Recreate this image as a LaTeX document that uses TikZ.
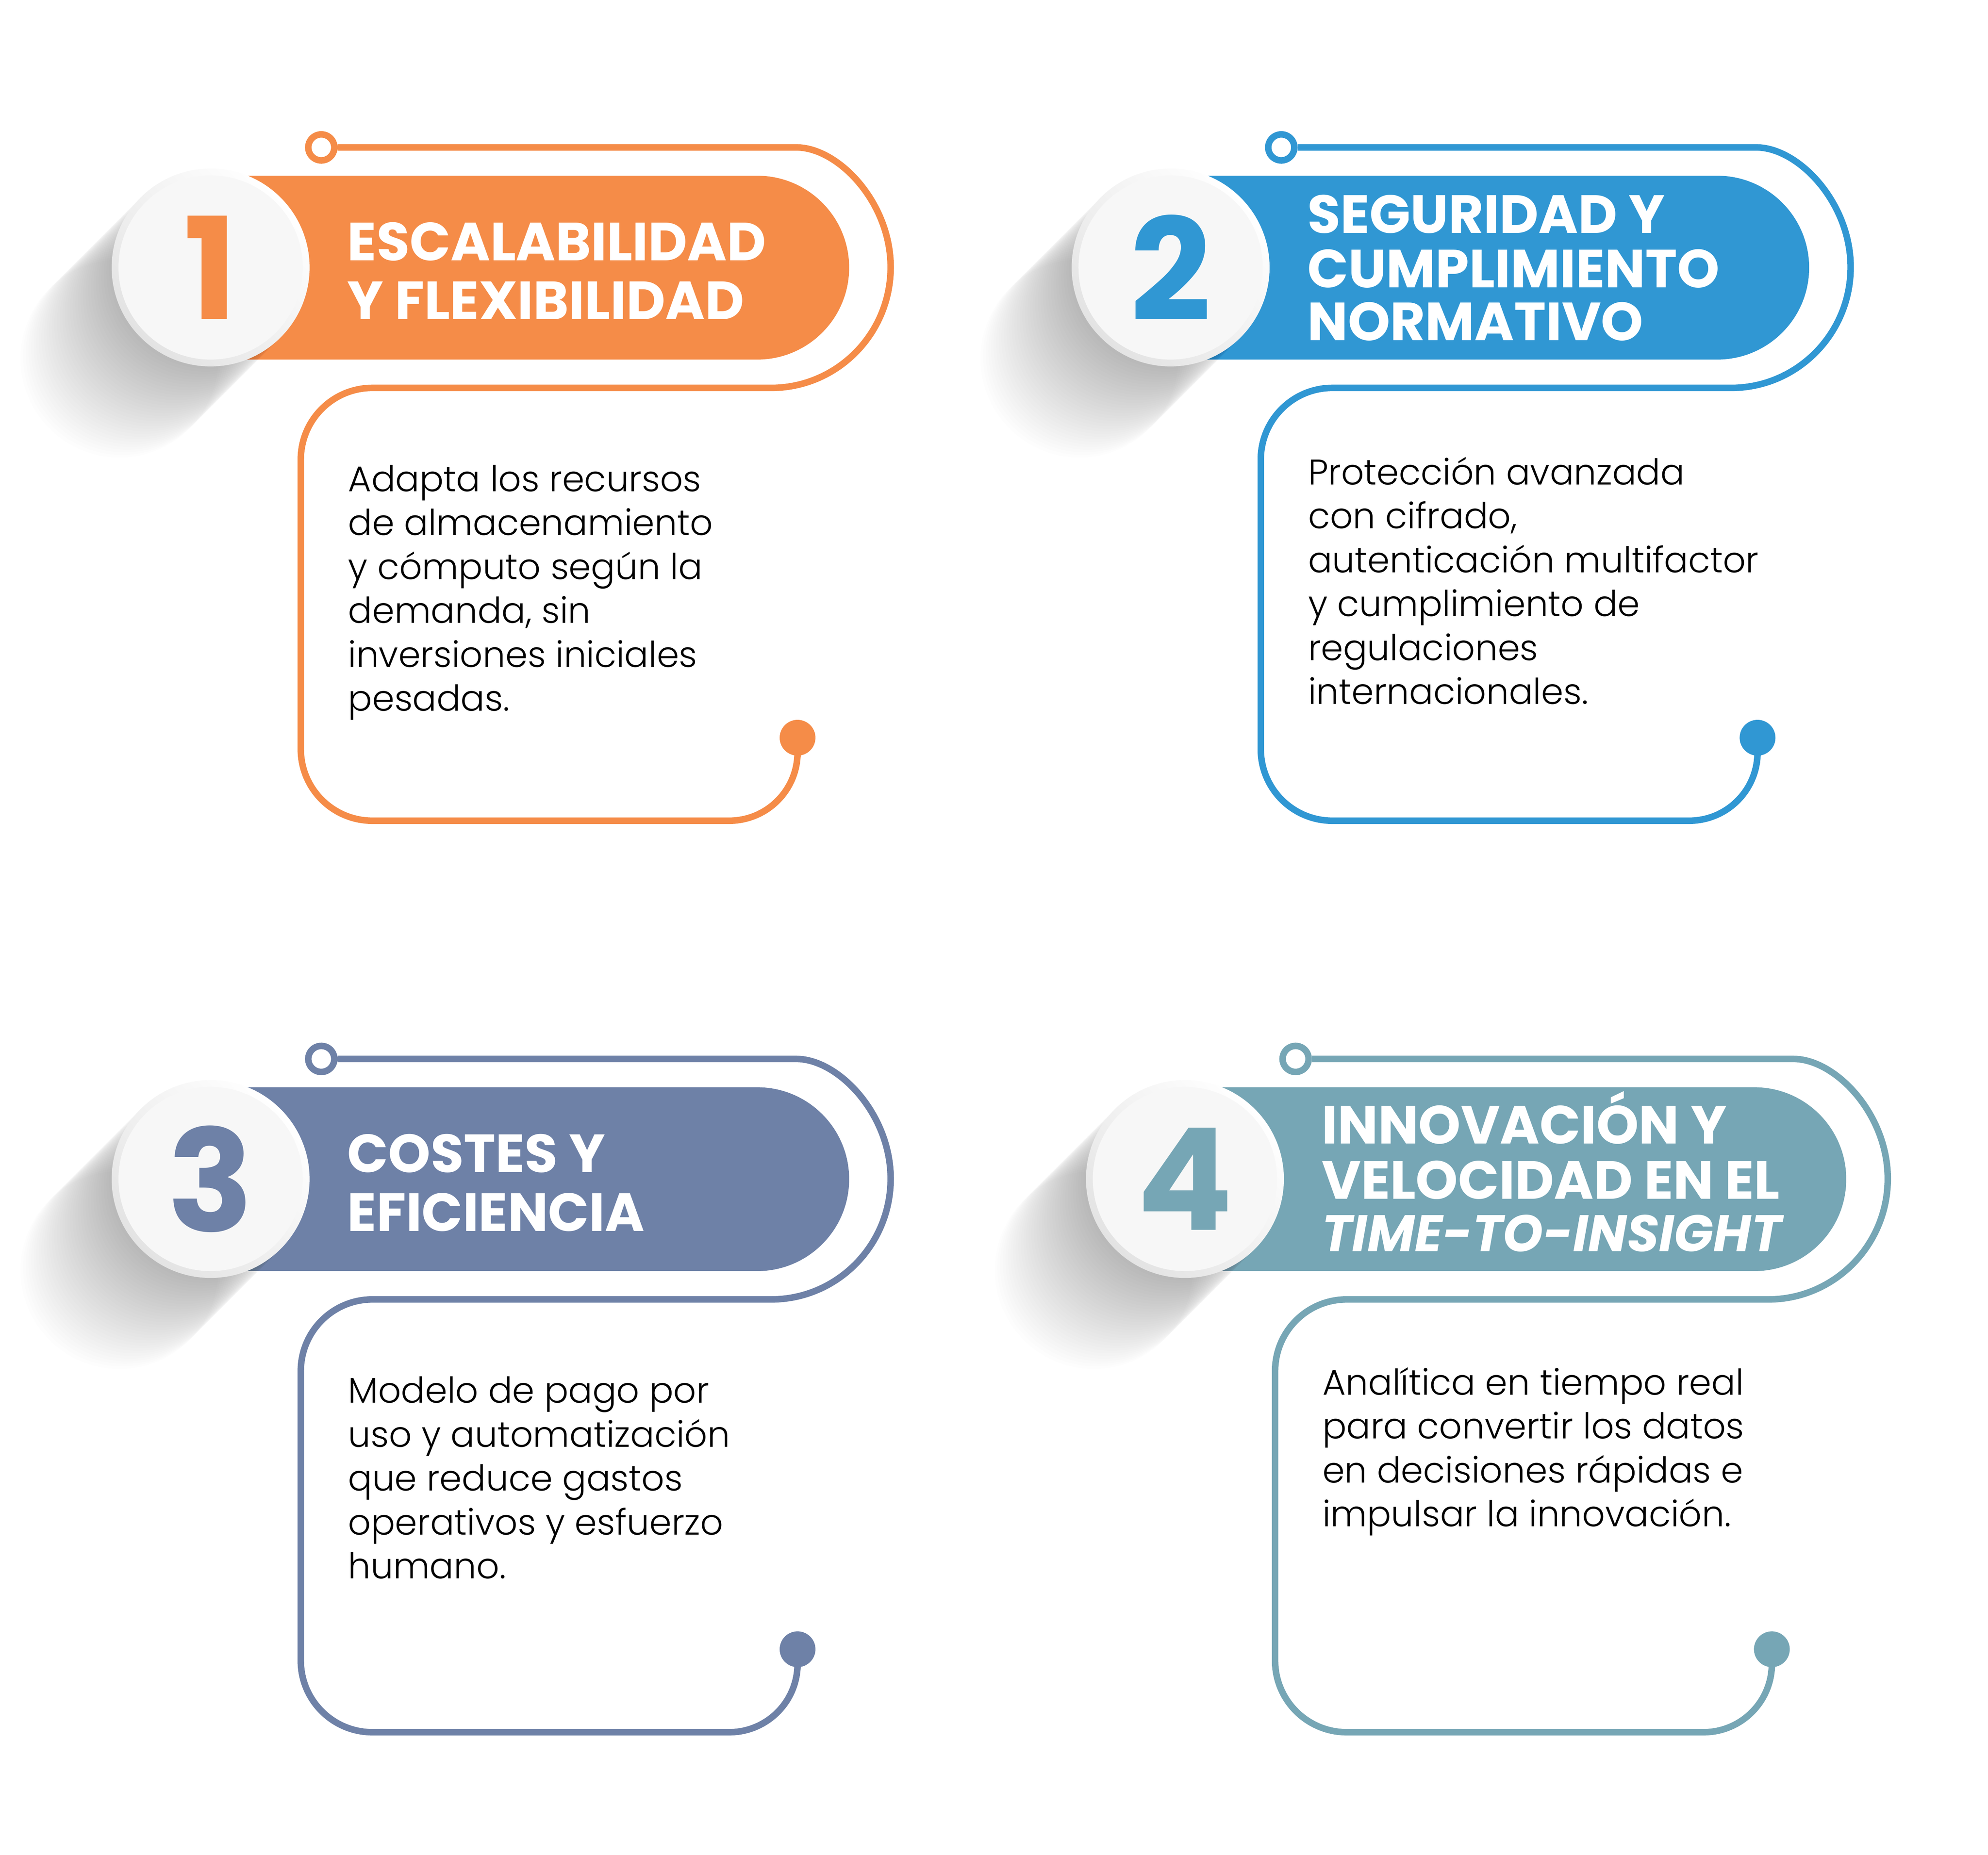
\documentclass[tikz,border=0pt]{standalone}
\usepackage{fontspec}
\setmainfont{Poppins}
\newfontfamily\bodyfont{Poppins Light}
\usepackage{tikz}
\usetikzlibrary{positioning}
\definecolor{orangeA}{HTML}{F58C48}
\definecolor{blueB}{HTML}{3097D3}
\definecolor{slateC}{HTML}{6E81A7}
\definecolor{tealD}{HTML}{76A6B5}
\definecolor{discgray}{HTML}{F7F7F7}

\begin{document}
\begin{tikzpicture}[
	ringnode/.style={circle, draw, line width=2.85pt, fill=white, minimum size=4mm, inner sep=0pt},
	dotnode/.style={circle, minimum size=5.5mm, inner sep=0pt},
	loopline/.style={line width=2.85pt},
	shadowdisc/.style={black, opacity=0.0065},
	discring/.style={shading=axis, top color=white, bottom color=black!11, shading angle=-45},
	numdisc/.style={circle, fill=discgray, minimum size=28.3mm, inner sep=0pt, font=\bfseries\fontsize{62}{62}\selectfont},
	titletext/.style={anchor=base west, inner sep=0pt, text=white, font=\bfseries\fontsize{23.5}{26}\selectfont},
	bodytext/.style={anchor=base west, inner sep=0pt, text=black, font=\bodyfont\fontsize{15.6}{19}\selectfont},
	]
	\path[use as bounding box, fill=white] (0,0) rectangle (30.535,-28.5);

	%Panel 1
	\begin{scope}
	\node[ringnode, draw=orangeA] (ring1) at (4.935,-2.265) {};
	\node[dotnode, fill=orangeA] (dot1) at (12.25,-11.335) {};
	\draw[loopline, orangeA] (ring1.east) -- (12.23,-2.265) .. controls (12.88,-2.265) and (13.68,-3.115) .. (13.68,-4.105) .. controls (13.68,-5.13) and (12.855,-5.96) .. (11.845,-5.96) -- (5.72,-5.96) arc[start angle=90, end angle=180, radius=1.1] -- (4.62,-11.51) arc[start angle=180, end angle=270, radius=1.1] -- (11.2,-12.61) arc[start angle=270, end angle=360, radius=1.05] -- (dot1);
	\fill[orangeA] (3.235,-2.70) -- (11.63,-2.70) arc[start angle=90, end angle=-90, radius=1.4125] -- (3.235,-5.525) -- cycle;
	\foreach \k in {1,...,35}
		\fill[shadowdisc, shift={(-0.04*\k,-0.04*\k)}] (3.235,-4.11) circle (1.52);
	\shade[discring] (3.235,-4.11) circle (1.52);
	\node[numdisc, text=orangeA] (num1) at (3.235,-4.11) {1};
	\node[titletext] (t1a) at (5.33,-4.005) {ESCALABILIDAD};
	\node[titletext] (t1b) at (5.33,-4.91) {Y FLEXIBILIDAD};
	\node[bodytext] (b1a) at (5.34,-7.55) {Adapta los recursos};
	\node[bodytext] (b1b) at (5.34,-8.225) {de almacenamiento};
	\node[bodytext] (b1c) at (5.34,-8.90) {y cómputo según la};
	\node[bodytext] (b1d) at (5.34,-9.575) {demanda, sin};
	\node[bodytext] (b1e) at (5.34,-10.25) {inversiones iniciales};
	\node[bodytext] (b1f) at (5.34,-10.925) {pesadas.};
	\end{scope}

	%Panel 2
	\begin{scope}[shift={(14.745,0)}]
	\node[ringnode, draw=blueB] (ring2) at (4.935,-2.265) {};
	\node[dotnode, fill=blueB] (dot2) at (12.25,-11.335) {};
	\draw[loopline, blueB] (ring2.east) -- (12.23,-2.265) .. controls (12.88,-2.265) and (13.68,-3.115) .. (13.68,-4.105) .. controls (13.68,-5.13) and (12.855,-5.96) .. (11.845,-5.96) -- (5.72,-5.96) arc[start angle=90, end angle=180, radius=1.1] -- (4.62,-11.51) arc[start angle=180, end angle=270, radius=1.1] -- (11.2,-12.61) arc[start angle=270, end angle=360, radius=1.05] -- (dot2);
	\fill[blueB] (3.235,-2.70) -- (11.63,-2.70) arc[start angle=90, end angle=-90, radius=1.4125] -- (3.235,-5.525) -- cycle;
	\foreach \k in {1,...,35}
		\fill[shadowdisc, shift={(-0.04*\k,-0.04*\k)}] (3.235,-4.11) circle (1.52);
	\shade[discring] (3.235,-4.11) circle (1.52);
	\node[numdisc, text=blueB] (num2) at (3.235,-4.11) {2};
	\node[titletext] (t2a) at (5.33,-3.58) {SEGURIDAD Y};
	\node[titletext] (t2b) at (5.33,-4.42) {CUMPLIMIENTO};
	\node[titletext] (t2c) at (5.33,-5.23) {NORMATIVO};
	\node[bodytext] (b2a) at (5.34,-7.445) {Protección avanzada};
	\node[bodytext] (b2b) at (5.34,-8.12) {con cifrado,};
	\node[bodytext] (b2c) at (5.34,-8.795) {autenticación multifactor};
	\node[bodytext] (b2d) at (5.34,-9.47) {y cumplimiento de};
	\node[bodytext] (b2e) at (5.34,-10.145) {regulaciones};
	\node[bodytext] (b2f) at (5.34,-10.82) {internacionales.};
	\end{scope}

	%Panel 3
	\begin{scope}[shift={(0,-14.005)}]
	\node[ringnode, draw=slateC] (ring3) at (4.935,-2.265) {};
	\node[dotnode, fill=slateC] (dot3) at (12.25,-11.335) {};
	\draw[loopline, slateC] (ring3.east) -- (12.23,-2.265) .. controls (12.88,-2.265) and (13.68,-3.115) .. (13.68,-4.105) .. controls (13.68,-5.13) and (12.855,-5.96) .. (11.845,-5.96) -- (5.72,-5.96) arc[start angle=90, end angle=180, radius=1.1] -- (4.62,-11.51) arc[start angle=180, end angle=270, radius=1.1] -- (11.2,-12.61) arc[start angle=270, end angle=360, radius=1.05] -- (dot3);
	\fill[slateC] (3.235,-2.70) -- (11.63,-2.70) arc[start angle=90, end angle=-90, radius=1.4125] -- (3.235,-5.525) -- cycle;
	\foreach \k in {1,...,35}
		\fill[shadowdisc, shift={(-0.04*\k,-0.04*\k)}] (3.235,-4.11) circle (1.52);
	\shade[discring] (3.235,-4.11) circle (1.52);
	\node[numdisc, text=slateC] (num3) at (3.235,-4.11) {3};
	\node[titletext] (t3a) at (5.33,-4.005) {COSTES Y};
	\node[titletext] (t3b) at (5.33,-4.91) {EFICIENCIA};
	\node[bodytext] (b3a) at (5.34,-7.55) {Modelo de pago por};
	\node[bodytext] (b3b) at (5.34,-8.225) {uso y automatización};
	\node[bodytext] (b3c) at (5.34,-8.90) {que reduce gastos};
	\node[bodytext] (b3d) at (5.34,-9.575) {operativos y esfuerzo};
	\node[bodytext] (b3e) at (5.34,-10.25) {humano.};
	\end{scope}

	%Panel 4
	\begin{scope}[shift={(14.965,-14.005)}]
	\node[ringnode, draw=tealD] (ring4) at (4.935,-2.265) {};
	\node[dotnode, fill=tealD] (dot4) at (12.25,-11.335) {};
	\draw[loopline, tealD] (ring4.east) -- (12.58,-2.265) .. controls (13.23,-2.265) and (14.03,-3.115) .. (14.03,-4.105) .. controls (14.03,-5.13) and (13.205,-5.96) .. (12.195,-5.96) -- (5.72,-5.96) arc[start angle=90, end angle=180, radius=1.1] -- (4.62,-11.51) arc[start angle=180, end angle=270, radius=1.1] -- (11.2,-12.61) arc[start angle=270, end angle=360, radius=1.05] -- (dot4);
	\fill[tealD] (3.235,-2.70) -- (11.98,-2.70) arc[start angle=90, end angle=-90, radius=1.4125] -- (3.235,-5.525) -- cycle;
	\foreach \k in {1,...,35}
		\fill[shadowdisc, shift={(-0.04*\k,-0.04*\k)}] (3.235,-4.11) circle (1.52);
	\shade[discring] (3.235,-4.11) circle (1.52);
	\node[numdisc, text=tealD] (num4) at (3.235,-4.11) {4};
	\node[titletext] (t4a) at (5.33,-3.57) {INNOVACIÓN Y};
	\node[titletext] (t4b) at (5.33,-4.415) {VELOCIDAD EN EL};
	\node[titletext, font=\bfseries\itshape\fontsize{22.5}{24}\selectfont] (t4c) at (5.33,-5.22) {TIME-TO-INSIGHT};
	\node[bodytext] (b4a) at (5.34,-7.425) {Analítica en tiempo real};
	\node[bodytext] (b4b) at (5.34,-8.10) {para convertir los datos};
	\node[bodytext] (b4c) at (5.34,-8.775) {en decisiones rápidas e};
	\node[bodytext] (b4d) at (5.34,-9.45) {impulsar la innovación.};
	\end{scope}
\end{tikzpicture}
\end{document}
